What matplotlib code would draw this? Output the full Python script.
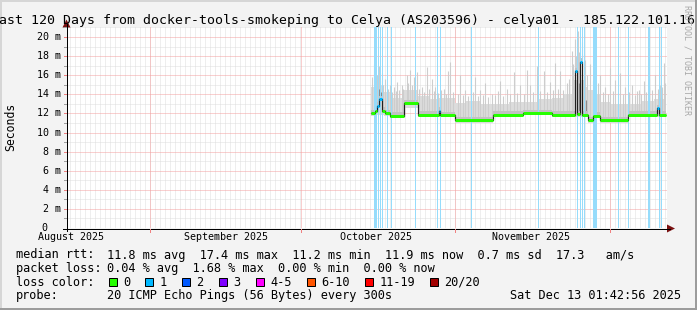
import matplotlib
matplotlib.use("Agg")
import matplotlib.pyplot as plt
from matplotlib.patches import Rectangle, Polygon
from matplotlib.lines import Line2D

# ---------------- data (x: days since 1 Aug 2025, y: milliseconds) ----------------
title = "Last 120 Days from docker-tools-smokeping to Celya (AS203596) - celya01 - 185.122.101.16"
month_labels = ["August 2025", "September 2025", "October 2025", "November 2025"]
month_days = [0, 31, 61, 92]
major_vgrid_days = [15.8, 46.0, 76.8, 107.8]
y_major_ticks = [0, 2, 4, 6, 8, 10, 12, 14, 16, 18, 20]

# median rtt as steps: start day, value, loss count
median_start = [60.0, 60.8, 61.2, 61.6, 62.2, 62.8, 63.8, 66.6, 69.4, 73.6, 73.8, 76.8,
                84.4, 90.4, 96.2, 100.8, 101.1, 101.8, 102.2, 103.4, 104.4, 105.8,
                111.4, 117.2, 117.6]
median_last_day = 119.0
median_ms = [12.05, 12.2, 12.8, 13.5, 12.3, 12.0, 11.75, 13.05, 11.85, 12.3, 11.8, 11.3,
             11.85, 12.05, 11.85, 16.4, 11.9, 17.4, 11.85, 11.3, 11.75, 11.3,
             11.85, 12.55, 11.85]
median_loss = [0, 0, 1, 1, 0, 0, 0, 0, 0, 1, 0, 0,
               0, 0, 0, 1, 0, 1, 0, 0, 0, 0,
               0, 1, 0]

# smoke envelope (lowest / typical highest ping) per span
smoke_start = [60.0, 61.0, 62.6, 63.8, 66.6, 69.4, 71.5, 73.6, 76.8, 79.0, 82.0, 84.4, 87.5,
               90.4, 93.5, 96.2, 98.5, 100.5, 102.5, 103.4, 104.4, 105.8, 108.0, 111.4,
               114.0, 116.5]
smoke_last_day = 119.0
smoke_lo = [11.7, 11.8, 11.7, 11.5, 12.6, 11.6, 11.6, 11.6, 11.0, 11.0, 11.0, 11.6, 11.6,
            11.8, 11.8, 11.6, 11.6, 11.6, 11.6, 11.0, 11.5, 11.0, 11.0, 11.6, 11.6, 11.6]
smoke_hi = [14.8, 15.0, 14.2, 13.6, 14.4, 13.8, 13.5, 13.6, 13.1, 13.3, 13.0, 13.0, 13.2,
            13.2, 13.5, 13.6, 14.0, 15.5, 14.8, 14.4, 14.0, 13.2, 13.0, 13.0, 13.3, 13.5]

# individual smoke spikes (day, highest ping)
spike_day = [60.2, 60.5, 60.8, 61.1, 61.5, 61.8, 62.1, 62.4, 62.8, 63.3, 63.7, 64.1, 64.5,
             64.9, 65.2, 65.6, 66.1, 66.4, 67.1, 67.4, 67.8, 68.2, 68.6, 69.1, 69.6, 70.1,
             70.6, 71.1, 71.6, 72.1, 72.5, 72.8, 73.3, 74.0, 74.5, 74.9, 75.3, 75.8, 76.3,
             77.3, 77.8, 78.3, 78.8, 79.4, 79.9, 80.4, 80.8, 81.3, 81.8, 82.3, 82.8, 83.4,
             84.1, 84.8, 85.3, 85.8, 86.4, 87.1, 87.7, 88.5, 89.1, 89.8, 90.5, 91.1, 91.8,
             92.4, 93.1, 93.8, 94.5, 95.1, 95.8, 96.3, 96.7, 97.3, 97.8, 98.4, 99.1, 99.6,
             100.1, 100.4, 100.7, 101.0, 101.3, 101.6, 102.1, 102.5, 102.8, 103.2, 103.8,
             104.3, 104.8, 105.3, 105.8, 106.3, 106.8, 107.3, 107.8, 108.3, 108.8, 109.3,
             109.8, 110.3, 110.8, 111.5, 112.1, 112.7, 113.1, 113.5, 114.0, 114.5, 115.0,
             115.5, 116.1, 116.8, 117.3, 117.8, 118.2, 118.5, 118.8]
spike_top = [15.8, 17.2, 18.5, 16.0, 17.0, 15.4, 16.2, 15.0, 15.6, 14.6, 15.0, 14.2, 14.8,
             14.3, 15.3, 14.5, 15.0, 14.6, 16.0, 15.2, 16.5, 15.0, 15.8, 16.3, 14.6, 14.8,
             14.2, 16.9, 14.6, 15.6, 14.3, 14.8, 14.1, 14.4, 14.6, 14.0, 16.4, 17.4, 14.2,
             14.0, 16.0, 13.9, 14.5, 13.8, 17.9, 14.2, 15.8, 13.8, 14.4, 13.9, 15.2, 13.7,
             14.0, 13.9, 14.3, 15.4, 13.8, 14.6, 14.0, 16.3, 14.1, 15.0, 14.0, 16.5, 15.0,
             14.2, 17.0, 14.3, 16.4, 14.2, 15.3, 14.5, 17.3, 14.6, 16.4, 14.5, 15.2, 15.6,
             18.5, 17.2, 19.8, 18.0, 20.6, 18.4, 19.5, 18.2, 17.6, 16.0, 17.2,
             15.4, 16.5, 15.2, 16.0, 14.2, 14.8, 14.0, 16.8, 14.3, 15.5, 14.1,
             16.2, 14.0, 14.8, 14.2, 15.0, 13.9, 14.3, 14.5, 14.0, 15.4, 14.2,
             15.6, 14.4, 16.0, 14.6, 15.0, 14.8, 17.3, 15.2]
dark_spike_day = [61.6, 62.0, 100.8, 101.5, 101.9, 103.0, 115.5, 117.9]
dark_spike_top = [14.6, 14.2, 16.6, 15.2, 17.6, 13.4, 14.8, 13.6]

# periods with packet loss (1 of 20)
loss_start = [60.6, 61.4, 61.8, 62.2, 63.2, 64.0, 68.8, 73.2, 73.8, 80.0, 93.4, 101.2,
              101.8, 102.2, 102.6, 104.4, 109.4, 111.4, 115.4, 117.6, 118.0]
loss_end = [61.2, 61.6, 62.0, 62.4, 63.4, 64.2, 69.0, 73.4, 74.0, 80.2, 93.6, 101.4,
            102.0, 102.4, 102.8, 105.2, 109.6, 111.6, 115.8, 117.8, 118.2]

# legend
rtt_stats = ["11.8 ms avg", "17.4 ms max", "11.2 ms min", "11.9 ms now", "0.7 ms sd", "17.3   am/s"]
loss_stats = ["0.04 % avg", "1.68 % max", "0.00 % min", "0.00 % now"]
loss_labels = ["0", "1", "2", "3", "4-5", "6-10", "11-19", "20/20"]
loss_colors = ["#26ff00", "#00b8ff", "#0059ff", "#7e00ff", "#ff00ff", "#ff5500", "#ff0000", "#a10000"]
probe_text = "20 ICMP Echo Pings (56 Bytes) every 300s"
stamp_text = "Sat Dec 13 01:42:56 2025"

# ---------------- layout ----------------
W, H, DPI = 697, 310, 100
MONO = "DejaVu Sans Mono"
PX = 72.0 / DPI  # one pixel in points

def fx(px):
    return px / W

def fy(py):
    return 1 - py / H

X0, X1, YB, YT = 67, 667, 228, 27.45
XMIN, XMAX, YMIN, YMAX = -0.8, 119.2, 0, 21

fig = plt.figure(figsize=(W / DPI, H / DPI), dpi=DPI, facecolor="#f3f3f3")
ax = fig.add_axes([fx(X0), fy(YB), (X1 - X0) / W, (YB - YT) / H])
ax.set_facecolor("white")
ax.set_xlim(XMIN, XMAX)
ax.set_ylim(YMIN, YMAX)
for s in ax.spines.values():
    s.set_visible(False)
ax.set_xticks([])
ax.set_yticks([])

dot = (0, (1, 1))
# minor grid
k = -1
while k < 120:
    d = k + 0.8
    if XMIN < d < XMAX:
        ax.axvline(d, color="#dedede", lw=PX, ls=dot, zorder=1)
    k += 1
for v in range(1, 22):
    if v % 2 == 1:
        ax.axhline(v, color="#dedede", lw=PX, ls=dot, zorder=1)
# major grid
for d in major_vgrid_days:
    ax.axvline(d, color="#f5a0a0", lw=PX, ls=dot, zorder=2)
for v in y_major_ticks[1:]:
    ax.axhline(v, color="#f5a0a0", lw=PX, ls=dot, zorder=2)

# smoke band
sm_end = smoke_start[1:] + [smoke_last_day]
for s0, s1, lo, hi in zip(smoke_start, sm_end, smoke_lo, smoke_hi):
    ax.fill_between([s0, s1], [lo, lo], [hi, hi], color="#dcdcdc", lw=0, zorder=3)

med_end = median_start[1:] + [median_last_day]

def median_at(day):
    for s0, s1, v in zip(median_start, med_end, median_ms):
        if s0 <= day < s1:
            return v
    return median_ms[-1]

for d, top in zip(spike_day, spike_top):
    ax.vlines(d, median_at(d), top, color="#cdcdcd", lw=1.1 * PX, zorder=4)
for d, top in zip(dark_spike_day, dark_spike_top):
    ax.vlines(d, median_at(d), top, color="#8c8c8c", lw=1.1 * PX, zorder=4)

# inner darker smoke
for s0, s1, v in zip(median_start, med_end, median_ms):
    ax.fill_between([s0, s1], [v - 0.2, v - 0.2], [v + 0.35, v + 0.35], color="#c2c2c2", lw=0, zorder=5)

# loss background lines
for a, b in zip(loss_start, loss_end):
    ax.axvspan(a, b, color="#96dcfb", lw=0, zorder=6)

# median thin dark line (steps)
xs, ys = [], []
for s0, s1, v in zip(median_start, med_end, median_ms):
    xs += [s0, s1]
    ys += [v, v]
ax.plot(xs, ys, color="#202020", lw=1.2 * PX, zorder=7, solid_capstyle="butt")
# thick loss coloured median
for s0, s1, v, l in zip(median_start, med_end, median_ms, median_loss):
    ax.hlines(v, s0, s1, color=loss_colors[l], lw=3 * PX, zorder=8 if l == 0 else 9,
              capstyle="butt")

# ---------------- axes decorations ----------------
fig.add_artist(Line2D([fx(63), fx(670)], [fy(YB + 0.5), fy(YB + 0.5)], color="black", lw=PX))
fig.add_artist(Line2D([fx(X0 - 0.5), fx(X0 - 0.5)], [fy(231), fy(24)], color="black", lw=PX))
fig.add_artist(Polygon([(fx(667), fy(224.5)), (fx(667), fy(232.5)), (fx(675), fy(228.5))],
                       closed=True, color="#7a1010", lw=0))
fig.add_artist(Polygon([(fx(62.5), fy(27.5)), (fx(70.5), fy(27.5)), (fx(66.5), fy(19.5))],
                       closed=True, color="#7a1010", lw=0))

def data_to_px_x(d):
    return X0 + (d - XMIN) / (XMAX - XMIN) * (X1 - X0)

def data_to_px_y(v):
    return YB - (v - YMIN) / (YMAX - YMIN) * (YB - YT)

for d in major_vgrid_days:
    p = data_to_px_x(d)
    fig.add_artist(Line2D([fx(p), fx(p)], [fy(YB + 1), fy(YB + 4)], color="#f08080", lw=PX))
for v in range(1, 22):
    p = data_to_px_y(v)
    fig.add_artist(Line2D([fx(63.5), fx(66)], [fy(p), fy(p)],
                          color="#f08080" if v % 2 == 0 else "#a0a0a0", lw=PX))

# y tick labels
for v in y_major_ticks:
    p = data_to_px_y(v)
    if v == 0:
        fig.text(fx(47.5), fy(p), "0", ha="right", va="center", fontsize=7.2, family=MONO)
    else:
        fig.text(fx(60.5), fy(p), f"{v} m", ha="right", va="center", fontsize=7.2, family=MONO)

# month labels
for d, lab in zip(month_days, month_labels):
    fig.text(fx(data_to_px_x(d)), fy(240), lab, ha="center", va="baseline", fontsize=7.2, family=MONO)

# titles
fig.text(fx(343.0), fy(24), title, ha="center", va="baseline", fontsize=9.55, family=MONO)
fig.text(fx(10.5), fy(127), "Seconds", rotation=90, ha="center", va="center", fontsize=8.3, family=MONO)
fig.text(fx(687.5), fy(5), "RRDTOOL / TOBI OETIKER", rotation=270, ha="center", va="top",
         fontsize=6.0, family=MONO, color="#a8a8a8")

# legend
LF = 8.55
fig.text(fx(16), fy(258.5), "median rtt:", ha="left", va="baseline", fontsize=LF, family=MONO)
fig.text(fx(107.3), fy(258.5), "  ".join(rtt_stats), ha="left", va="baseline", fontsize=LF, family=MONO)
fig.text(fx(16), fy(272), "packet loss:", ha="left", va="baseline", fontsize=LF, family=MONO)
fig.text(fx(107.3), fy(272), "  ".join(loss_stats), ha="left", va="baseline", fontsize=LF, family=MONO)
fig.text(fx(16), fy(285.7), "loss color:", ha="left", va="baseline", fontsize=LF, family=MONO)
cw = 7.15
bx = 108.5
for lab, col in zip(loss_labels, loss_colors):
    fig.add_artist(Rectangle((fx(bx), fy(286)), 8 / W, 8 / H, facecolor=col, edgecolor="black", lw=PX))
    fig.text(fx(bx + 14.5), fy(285.7), lab, ha="left", va="baseline", fontsize=LF, family=MONO)
    bx += 15.3 + cw * len(lab) + 2 * cw
fig.text(fx(16), fy(299.3), "probe:", ha="left", va="baseline", fontsize=LF, family=MONO)
fig.text(fx(107.3), fy(299.3), probe_text, ha="left", va="baseline", fontsize=LF, family=MONO)
fig.text(fx(680.5), fy(299.3), stamp_text, ha="right", va="baseline", fontsize=LF, family=MONO)

# frame
fig.add_artist(Rectangle((0, 0), 2 / W, 1, facecolor="#d6d6d6", lw=0))
fig.add_artist(Rectangle((0, 1 - 2 / H), 1, 2 / H, facecolor="#d6d6d6", lw=0))
fig.add_artist(Rectangle((1 - 2 / W, 0), 2 / W, 1, facecolor="#9c9c9c", lw=0))
fig.add_artist(Rectangle((0, 0), 1, 2 / H, facecolor="#9c9c9c", lw=0))

fig.savefig("out.png", dpi=DPI, facecolor=fig.get_facecolor())
